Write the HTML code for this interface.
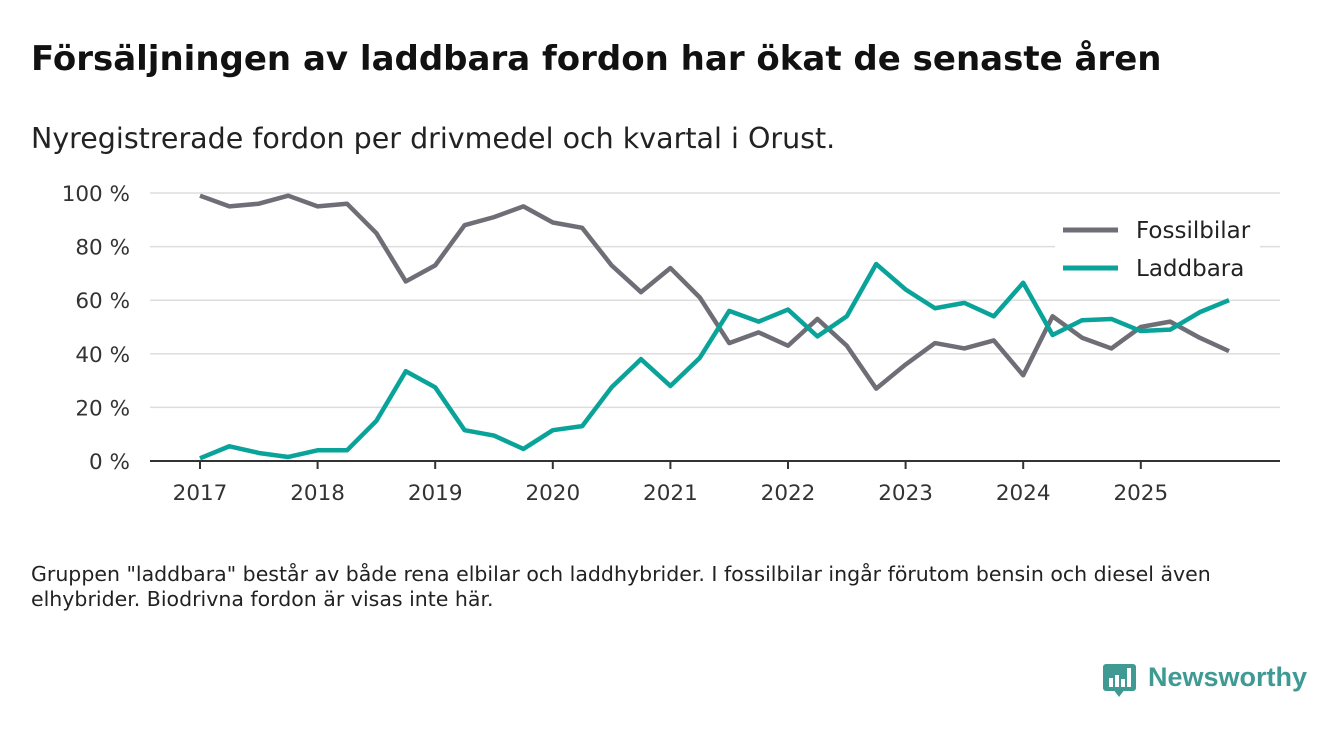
<!DOCTYPE html>
<html><head><meta charset="utf-8"><style>
body{margin:0;width:1340px;height:733px;background:#fff;font-family:"DejaVu Sans","Liberation Sans",sans-serif;overflow:hidden;position:relative}
.t{position:absolute;left:31px;top:39px;font-size:34px;font-weight:bold;color:#111;white-space:nowrap}
.s{position:absolute;left:31px;top:122px;font-size:28.5px;color:#222;white-space:nowrap}
.n{position:absolute;left:31px;top:562px;font-size:20.5px;color:#222;line-height:25px;width:1260px;white-space:nowrap}
svg{position:absolute;left:0;top:0;font-family:"DejaVu Sans","Liberation Sans",sans-serif}
</style></head><body>
<div class="t">Försäljningen av laddbara fordon har ökat de senaste åren</div>
<div class="s">Nyregistrerade fordon per drivmedel och kvartal i Orust.</div>
<div class="n">Gruppen "laddbara" består av både rena elbilar och laddhybrider. I fossilbilar ingår förutom bensin och diesel även<br>elhybrider. Biodrivna fordon är visas inte här.</div>
<svg width="1340" height="733" id="c"></svg>
<div style="position:absolute;left:1103px;top:664px;">
<div style="position:absolute;left:0;top:0;width:33px;height:27px;background:#3f9a94;border-radius:3px"></div>
<div style="position:absolute;left:10px;top:25px;width:0;height:0;border-left:6px solid transparent;border-right:6px solid transparent;border-top:8px solid #3f9a94"></div>
<div style="position:absolute;left:6px;top:14px;width:4px;height:9px;background:#fff"></div>
<div style="position:absolute;left:12px;top:11px;width:4px;height:12px;background:#fff"></div>
<div style="position:absolute;left:18px;top:15px;width:4px;height:8px;background:#fff"></div>
<div style="position:absolute;left:24px;top:4px;width:4px;height:19px;background:#fff"></div>
<div style="position:absolute;left:45px;top:-2px;font-size:27px;font-weight:bold;color:#3f9a94;white-space:nowrap;font-family:'Liberation Sans',sans-serif">Newsworthy</div>
</div>
<script>
const years=["2017","2018","2019","2020","2021","2022","2023","2024","2025"];
const yTicks=[0,20,40,60,80,100];
const fossil=[99,95,96,99,95,96,85,67,73,88,91,95,89,87,73,63,72,61,44,48,43,53,43,27,36,44,42,45,32,54,46,42,50,52,46,41];
const laddbara=[1,5.5,3,1.5,4,4,15,33.5,27.5,11.5,9.5,4.5,11.5,13,27.5,38,28,38.5,56,52,56.5,46.5,54,73.5,64,57,59,54,66.5,47,52.5,53,48.5,49,55.5,60];
const NS="http://www.w3.org/2000/svg",svg=document.getElementById('c');
const x=i=>200+i*117.6/4, y=v=>461-v*2.68;
function mk(t,a,p){const e=document.createElementNS(NS,t);for(const k in a)e.setAttribute(k,a[k]);(p||svg).appendChild(e);return e;}
yTicks.forEach(v=>{
 if(v>0){const l=mk('line',{x1:150,x2:1280,y1:y(v),y2:y(v),stroke:'#ddd','stroke-width':1.5});
 
 }
 const t=mk('text',{x:130,y:y(v)+8,'text-anchor':'end','font-size':21.5,fill:'#333'});t.textContent=v+' %';
 
 
});
const ax=mk('line',{x1:150,x2:1280,y1:461,y2:461,stroke:'#333','stroke-width':2});


years.forEach((yr,i)=>{
 const px=x(i*4);
 mk('line',{x1:px,x2:px,y1:461,y2:469,stroke:'#333','stroke-width':2});
 const t=mk('text',{x:px,y:500,'text-anchor':'middle','font-size':21.5,fill:'#333'});t.textContent=yr;
 
 
});
function line(d,c,n){const p=mk('polyline',{points:d.map((v,i)=>x(i)+','+y(v)).join(' '),fill:'none',stroke:c,'stroke-width':4.5,'stroke-linejoin':'round'});
 
 }
line(fossil,'#6f6e76','fossilbilar-line');
line(laddbara,'#0aa39a','laddbara-line');
mk('rect',{x:1055,y:212,width:205,height:78,fill:'#fff'});
[['Fossilbilar','#6f6e76',230],['Laddbara','#0aa39a',268]].forEach(([l,c,yy])=>{
 const g=mk('g',{});
 
 
 mk('line',{x1:1063,x2:1118,y1:yy,y2:yy,stroke:c,'stroke-width':5},g);
 const t=mk('text',{x:1136,y:yy+8,'font-size':23,fill:'#222'},g);t.textContent=l;
});
</script>
</body></html>
